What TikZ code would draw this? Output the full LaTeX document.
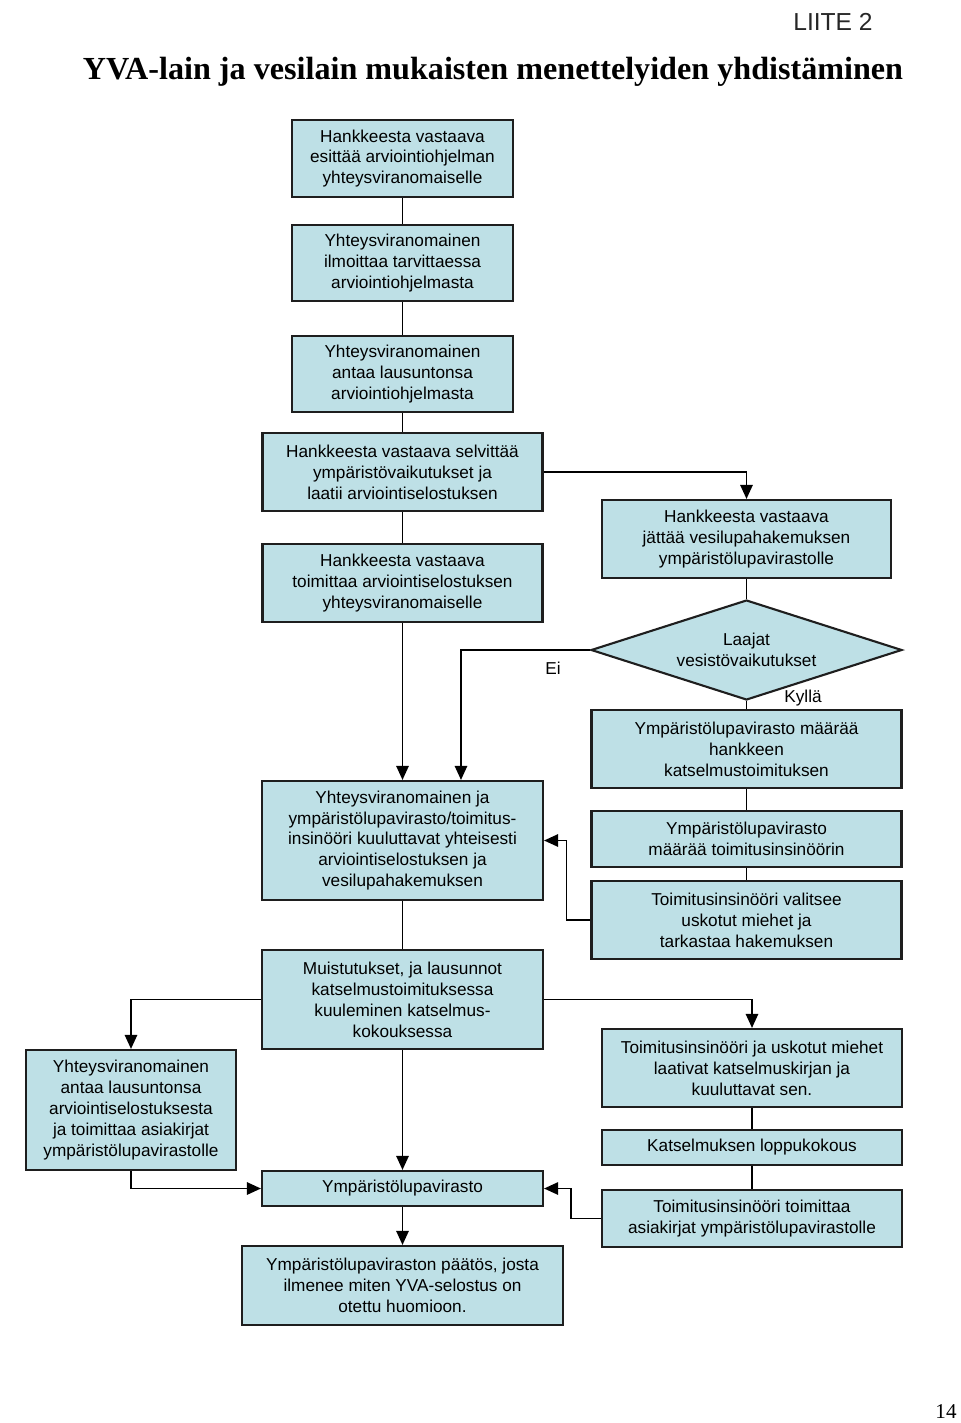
\documentclass[tikz,border=0pt]{standalone}
\usepackage{fontspec}
\setmainfont{Liberation Sans}
\newfontfamily\otsikkofont{Liberation Serif}
\usetikzlibrary{arrows.meta,shapes.geometric}
\definecolor{laatikko}{RGB}{190,224,230}
\definecolor{reuna}{RGB}{30,30,30}
\begin{document}
\begin{tikzpicture}[x=0.02cm, y=-0.02cm, >={Triangle[length=8pt,width=7pt]},
    every node/.style={font=\fontsize{9.8}{11.9}\selectfont, align=center, inner sep=1pt},
    vaihe/.style={draw=reuna, line width=1.2pt, fill=laatikko, rectangle},
    paatos/.style={draw=reuna, line width=1.2pt, fill=laatikko, diamond, aspect=3.1},
    viiva/.style={line width=1.1pt}]

    \useasboundingbox (0,0) rectangle (960,1423);

    % Titles
    \node (liite) at (833,22) {\fontsize{14}{16}\selectfont\color{black!85}LIITE 2};
    \node (otsikko) at (493,72) {\otsikkofont\bfseries\fontsize{18.3}{21}\selectfont YVA-lain ja vesilain mukaisten menettelyiden yhdistäminen};
    \node (sivu) at (946,1412) {\otsikkofont\fontsize{12}{14}\selectfont 14};

    % Nodes
    \node (esitys) [vaihe, minimum width=4.42cm, minimum height=1.54cm] at (402.5,158.5) {Hankkeesta vastaava\\esittää arviointiohjelman\\yhteysviranomaiselle};
    \node (ilmoitus) [vaihe, minimum width=4.42cm, minimum height=1.52cm] at (402.5,263) {Yhteysviranomainen\\ilmoittaa tarvittaessa\\arviointiohjelmasta};
    \node (lausunto) [vaihe, minimum width=4.42cm, minimum height=1.52cm] at (402.5,374) {Yhteysviranomainen\\antaa lausuntonsa\\arviointiohjelmasta};
    \node (selvitys) [vaihe, minimum width=5.6cm, minimum height=1.56cm] at (402.5,472) {Hankkeesta vastaava selvittää\\ympäristövaikutukset ja\\laatii arviointiselostuksen};
    \node (toimitus) [vaihe, minimum width=5.6cm, minimum height=1.56cm] at (402.5,583) {Hankkeesta vastaava\\toimittaa arviointiselostuksen\\yhteysviranomaiselle};

    \node (hakemus) [vaihe, minimum width=5.78cm, minimum height=1.56cm] at (746.5,539) {Hankkeesta vastaava\\jättää vesilupahakemuksen\\ympäristölupavirastolle};
    \node (laajat) [paatos, minimum width=6.22cm, minimum height=2cm, inner sep=0pt] at (746.5,650) {Laajat\\vesistövaikutukset};
    \node (katselmus) [vaihe, minimum width=6.2cm, minimum height=1.56cm] at (746.5,749) {Ympäristölupavirasto määrää\\hankkeen\\katselmustoimituksen};
    \node (insinoori) [vaihe, minimum width=6.2cm, minimum height=1.12cm] at (746.5,839) {Ympäristölupavirasto\\määrää toimitusinsinöörin};
    \node (valinta) [vaihe, minimum width=6.2cm, minimum height=1.56cm] at (746.5,920) {Toimitusinsinööri valitsee\\uskotut miehet ja\\tarkastaa hakemuksen};

    \node (kuulutus) [vaihe, minimum width=5.62cm, minimum height=2.38cm] at (402.5,840.5) {Yhteysviranomainen ja\\ympäristölupavirasto/toimitus-\\insinööri kuuluttavat yhteisesti\\arviointiselostuksen ja\\vesilupahakemuksen};
    \node (muistutus) [vaihe, minimum width=5.62cm, minimum height=1.98cm] at (402.5,999.5) {Muistutukset, ja lausunnot\\katselmustoimituksessa\\kuuleminen katselmus-\\kokouksessa};
    \node (ylausunto) [vaihe, minimum width=4.2cm, minimum height=2.4cm] at (131,1110) {Yhteysviranomainen\\antaa lausuntonsa\\arviointiselostuksesta\\ja toimittaa asiakirjat\\ympäristölupavirastolle};

    \node (katselmuskirja) [vaihe, minimum width=6cm, minimum height=1.56cm] at (752,1068) {Toimitusinsinööri ja uskotut miehet\\laativat katselmuskirjan ja\\kuuluttavat sen.};
    \node (loppukokous) [vaihe, minimum width=6cm, minimum height=0.7cm] at (752,1147.5) {Katselmuksen loppukokous};
    \node (asiakirjat) [vaihe, minimum width=6cm, minimum height=1.14cm] at (752,1218.5) {Toimitusinsinööri toimittaa\\asiakirjat ympäristölupavirastolle};

    \node (virasto) [vaihe, minimum width=5.62cm, minimum height=0.7cm] at (402.5,1188.5) {Ympäristölupavirasto};
    \node (paatos) [vaihe, minimum width=6.42cm, minimum height=1.58cm] at (402.5,1285.5) {Ympäristölupaviraston päätös, josta\\ilmenee miten YVA-selostus on\\otettu huomioon.};

    \node (ei) at (553,668) {Ei};
    \node (kylla) at (803,698) {Kyllä};

    % Arrows
    \draw[viiva] (esitys) -- (ilmoitus);
    \draw[viiva] (ilmoitus) -- (lausunto);
    \draw[viiva] (lausunto) -- (selvitys);
    \draw[viiva] (selvitys) -- (toimitus);
    \draw[viiva, ->] (toimitus) -- (kuulutus);

    \draw[viiva, ->] (selvitys) -| (hakemus);
    \draw[viiva] (hakemus) -- (laajat);
    \draw[viiva, ->] (laajat.west) -| ([xshift=1.17cm]kuulutus.north);
    \draw[viiva] (laajat) -- (katselmus);
    \draw[viiva] (katselmus) -- (insinoori);
    \draw[viiva] (insinoori) -- (valinta);
    \draw[viiva, ->] (valinta.west) -- ++(-24,0) |- (kuulutus.east);

    \draw[viiva] (kuulutus) -- (muistutus);
    \draw[viiva, ->] (muistutus) -| (ylausunto);
    \draw[viiva, ->] (muistutus) -| (katselmuskirja);
    \draw[viiva, ->] (muistutus) -- (virasto);
    \draw[viiva, ->] (ylausunto) |- (virasto);

    \draw[viiva] (katselmuskirja) -- (loppukokous);
    \draw[viiva] (loppukokous) -- (asiakirjat);
    \draw[viiva, ->] (asiakirjat.west) -- ++(-30,0) |- (virasto.east);
    \draw[viiva, ->] (virasto) -- (paatos);

\end{tikzpicture}
\end{document}
